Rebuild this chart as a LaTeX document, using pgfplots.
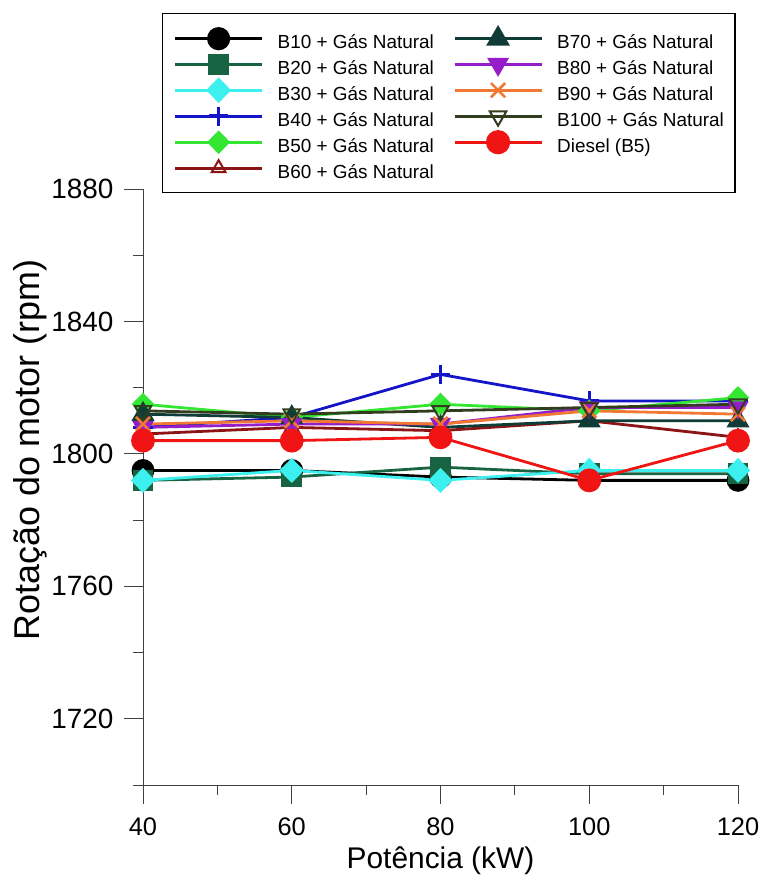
\documentclass[border=0pt]{standalone}
\usepackage{pgfplots}
\pgfplotsset{compat=1.18}
\usepackage{fontspec}
\setmainfont{Liberation Sans}

\definecolor{cB20}{RGB}{24,100,66}
\definecolor{cB30}{RGB}{60,240,240}
\definecolor{cB40}{RGB}{20,20,200}
\definecolor{cB50}{RGB}{50,230,50}
\definecolor{cB60}{RGB}{140,20,20}
\definecolor{cB70}{RGB}{15,60,55}
\definecolor{cB80}{RGB}{150,30,200}
\definecolor{cB90}{RGB}{240,120,50}
\definecolor{cB100}{RGB}{50,60,30}
\definecolor{cDiesel}{RGB}{240,20,20}

\pgfplotsset{
  sB10/.style={black, mark=*, mark size=10bp, mark options={solid, fill=black}},
  sB20/.style={cB20, mark=square*, mark size=9bp, mark options={solid, fill=cB20}},
  sB30/.style={cB30, mark=diamond*, mark size=10.5bp, mark options={solid, fill=cB30, xscale=1.3}},
  sB40/.style={cB40, mark=+, mark size=9.5bp, mark options={solid, line width=3.5bp}},
  sB50/.style={cB50, mark=diamond*, mark size=9.5bp, mark options={solid, fill=cB50, xscale=1.3}},
  sB60/.style={cB60, mark=triangle, mark size=8bp, mark options={solid, fill=white, line width=2bp}},
  sB70/.style={cB70, mark=triangle*, mark size=10.5bp, mark options={solid, fill=cB70}},
  sB80/.style={cB80, mark=triangle*, mark size=9.5bp, mark options={solid, fill=cB80, rotate=180}},
  sB90/.style={cB90, mark=x, mark size=10bp, mark options={solid, line width=2.6bp}},
  sB100/.style={cB100, mark=triangle, mark size=9.5bp, mark options={solid, fill=white, rotate=180, line width=2bp}},
  sDiesel/.style={cDiesel, mark=*, mark size=10.5bp, mark options={solid, fill=cDiesel}},
}

\begin{document}
\begin{tikzpicture}
\path[use as bounding box] (0bp,0bp) rectangle (760bp,875bp);
\begin{axis}[
  at={(143bp,90bp)}, anchor=south west,
  scale only axis, width=595bp, height=596bp,
  xmin=40, xmax=120, ymin=1700, ymax=1880,
  axis x line*=bottom, axis y line*=left,
  axis line style={line width=0.9bp, black!75},
  xtick={40,60,...,120}, minor xtick={50,70,90,110},
  ytick={1720,1760,...,1880}, minor ytick={1700,1740,...,1860},
  tick align=outside, major tick length=19bp, minor tick length=10bp,
  every tick/.style={line width=0.9bp, black!75},
  /pgf/number format/assume math mode=true,
  /pgf/number format/set thousands separator={},
  yticklabel style={font=\fontsize{28}{32}\selectfont, xshift=-7bp},
  xticklabel style={font=\fontsize{25.5}{30}\selectfont, yshift=-10bp},
  xlabel={Potência (kW)}, ylabel={Rotação do motor (rpm)},
  xlabel style={font=\fontsize{30}{34}\selectfont, at={(axis description cs:0.5,-0.127)}, anchor=center},
  ylabel style={font=\fontsize{36}{40}\selectfont, at={(axis description cs:-0.19,0.562)}, anchor=center},
  clip=false,
  every axis plot/.append style={line width=2.8bp},
  legend columns=2,
  legend cell align=left,
  legend image code/.code={\draw[mark repeat=2, mark phase=2] plot coordinates {(0bp,0bp) (43.5bp,0bp) (87bp,0bp)};},
  legend image post style={line width=3.2bp},
  legend style={at={(axis description cs:0.0318,1.2953)}, anchor=north west,
    draw=black, line width=1.2bp, inner xsep=11bp, inner ysep=14.6bp,
    font=\fontsize{19}{22}\selectfont, row sep=5.5bp, column sep=0bp,
    nodes={inner ysep=0pt, inner xsep=0bp, text height=20bp, text depth=0bp},
    /tikz/every odd column/.append style={column sep=14bp},
    /tikz/every even column/.append style={column sep=19bp}},
]
% measured engine speed for each fuel blend
\addplot[sB10, forget plot] coordinates {(40,1795) (60,1795) (80,1793) (100,1792) (120,1792)};
\addplot[sB20, forget plot] coordinates {(40,1792) (60,1793) (80,1796) (100,1794) (120,1794)};
\addplot[sB30, forget plot] coordinates {(40,1792) (60,1795) (80,1792) (100,1795) (120,1795)};
\addplot[sB40, forget plot] coordinates {(40,1808) (60,1811) (80,1824) (100,1816) (120,1816)};
\addplot[sB50, forget plot] coordinates {(40,1815) (60,1811) (80,1815) (100,1813) (120,1817)};
\addplot[sB60, forget plot] coordinates {(40,1806) (60,1808) (80,1807) (100,1810) (120,1805)};
\addplot[sB70, forget plot] coordinates {(40,1812) (60,1811) (80,1808) (100,1810) (120,1810)};
\addplot[sB80, forget plot] coordinates {(40,1808) (60,1809) (80,1809) (100,1814) (120,1814)};
\addplot[sB90, forget plot] coordinates {(40,1809) (60,1810) (80,1809) (100,1813) (120,1812)};
\addplot[sB100, forget plot] coordinates {(40,1813) (60,1812) (80,1813) (100,1814) (120,1815)};
\addplot[sDiesel, forget plot] coordinates {(40,1804) (60,1804) (80,1805) (100,1792) (120,1804)};

% legend entries, filled row by row
\addlegendimage{sB10}\addlegendentry{B10 + Gás Natural}
\addlegendimage{sB70}\addlegendentry{B70 + Gás Natural}
\addlegendimage{sB20}\addlegendentry{B20 + Gás Natural}
\addlegendimage{sB80}\addlegendentry{B80 + Gás Natural}
\addlegendimage{sB30}\addlegendentry{B30 + Gás Natural}
\addlegendimage{sB90}\addlegendentry{B90 + Gás Natural}
\addlegendimage{sB40}\addlegendentry{B40 + Gás Natural}
\addlegendimage{sB100}\addlegendentry{B100 + Gás Natural}
\addlegendimage{sB50}\addlegendentry{B50 + Gás Natural}
\addlegendimage{sDiesel}\addlegendentry{Diesel (B5)}
\addlegendimage{sB60}\addlegendentry{B60 + Gás Natural}
\end{axis}
\end{tikzpicture}
\end{document}
